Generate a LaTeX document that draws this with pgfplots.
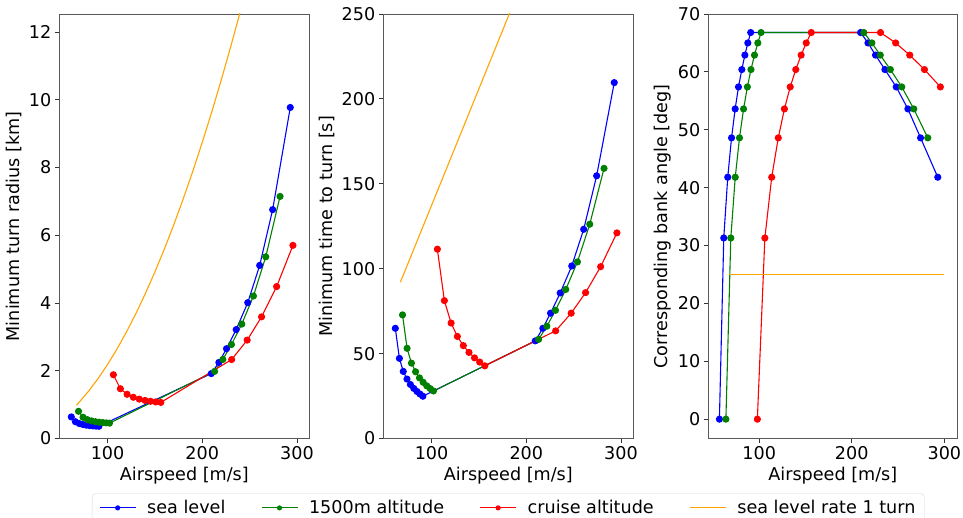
\documentclass[border=0pt]{standalone}
\usepackage{fontspec}
\setmainfont{DejaVu Sans}
\usepackage{pgfplots}
\pgfplotsset{compat=1.18}

\definecolor{cblue}{RGB}{0,0,255}
\definecolor{cgreen}{RGB}{0,128,0}
\definecolor{cred}{RGB}{255,0,0}
\definecolor{corange}{RGB}{255,165,0}

\pgfplotsset{
  panel/.style={
    scale only axis, width=250pt, height=424.5pt,
    anchor=south west,
    tick pos=left, tick align=outside, major tick length=4.5pt,
    axis line style={black!65, line width=0.9pt},
    every tick/.style={black!80, line width=0.9pt},
    font=\fontsize{17.6}{21}\selectfont,
    ticklabel style={font=\fontsize{17.6}{21}\selectfont},
    /pgf/number format/assume math mode=true,
    xtick={100,200,300},
    xlabel={Airspeed [m/s]},
    legend image code/.code={
      \draw[mark repeat=2,mark phase=2,#1,mark size=2pt]
        plot coordinates {(0pt,0pt) (18pt,0pt) (36pt,0pt)};
    },
  },
  sl/.style={color=cblue, line width=1.1pt, mark=*, mark size=3pt, mark options={fill=cblue}},
  mid/.style={color=cgreen, line width=1.1pt, mark=*, mark size=3pt, mark options={fill=cgreen}},
  cr/.style={color=cred, line width=1.1pt, mark=*, mark size=3pt, mark options={fill=cred}},
  rone/.style={color=corange, line width=1.1pt, no markers},
}

\begin{document}
\begin{tikzpicture}
\useasboundingbox (0,0) rectangle (963pt,517pt);

% ---------- turn radius ----------
\begin{axis}[panel, at={(59.3pt,78.5pt)},
  xmin=49, xmax=313, ymin=0, ymax=12.53,
  ytick={0,2,4,6,8,10,12},
  ylabel={Minimum turn radius [km]}]
\addplot[sl] coordinates {
 (61.7,0.637) (66.0,0.496) (70.1,0.441) (74.0,0.412) (77.6,0.393)
 (81.2,0.381) (84.5,0.372) (87.7,0.365) (90.8,0.360)
 (209.5,1.916) (217.5,2.245) (225.6,2.651) (235.8,3.215)
 (248.0,4.010) (260.6,5.109) (274.3,6.755) (292.9,9.771)};
\addplot[mid] coordinates {
 (69.3,0.803) (74.1,0.626) (78.7,0.556) (83.1,0.519) (87.2,0.496)
 (91.1,0.480) (94.9,0.469) (98.5,0.461) (102.0,0.454)
 (213.0,1.981) (221.7,2.333) (230.8,2.774) (241.7,3.377)
 (254.0,4.206) (267.0,5.363) (282.1,7.145)};
\addplot[cr] coordinates {
 (106.1,1.882) (113.5,1.468) (120.6,1.305) (127.2,1.217) (133.5,1.162)
 (139.5,1.125) (145.3,1.099) (150.8,1.080) (156.2,1.065)
 (231.0,2.330) (247.4,2.905) (262.6,3.591) (278.5,4.484) (295.7,5.700)};
\addplot[rone] coordinates {
 (67,0.981) (70,1.071) (80,1.399) (90,1.771) (100,2.186) (110,2.645)
 (120,3.148) (130,3.694) (140,4.285) (150,4.919) (160,5.596)
 (170,6.318) (180,7.083) (190,7.892) (200,8.744) (210,9.640)
 (220,10.580) (230,11.564) (240,12.591) (250,13.663)};
\end{axis}

% ---------- time to turn ----------
\begin{axis}[panel, at={(383.3pt,78.5pt)},
  xmin=49, xmax=313, ymin=0, ymax=250,
  ytick={0,50,100,150,200,250},
  ylabel={Minimum time to turn [s]},
  legend columns=4,
  legend style={at={(0.5,-0.129)}, anchor=north,
    draw=black!15, rounded corners=4pt, fill=white,
    inner xsep=7pt, inner ysep=5pt,
    font=\fontsize{17.6}{21}\selectfont,
    /tikz/every odd column/.append style={column sep=9pt},
    /tikz/every even column/.append style={column sep=33.5pt}}]
\addplot[sl] coordinates {
 (61.7,64.9) (66.0,47.2) (70.1,39.5) (74.0,35.0) (77.6,31.8)
 (81.2,29.5) (84.5,27.7) (87.7,26.2) (90.8,24.9)
 (209.5,57.5) (217.5,64.9) (225.6,73.8) (235.8,85.7)
 (248.0,101.6) (260.6,123.2) (274.3,154.7) (292.9,209.6)};
\addlegendentry{sea level}
\addplot[mid] coordinates {
 (69.3,72.8) (74.1,53.1) (78.7,44.4) (83.1,39.3) (87.2,35.7)
 (91.1,33.1) (94.9,31.0) (98.5,29.4) (102.0,28.0)
 (213.0,58.4) (221.7,66.1) (230.8,75.5) (241.7,87.8)
 (254.0,104.0) (267.0,126.2) (282.1,159.1)};
\addlegendentry{1500m altitude}
\addplot[cr] coordinates {
 (106.1,111.5) (113.5,81.2) (120.6,68.0) (127.2,60.1) (133.5,54.7)
 (139.5,50.7) (145.3,47.5) (150.8,45.0) (156.2,42.8)
 (231.0,63.4) (247.4,73.8) (262.6,85.9) (278.5,101.2) (295.7,121.1)};
\addlegendentry{cruise altitude}
\addplot[rone] coordinates {(67,92.0) (150,206.0) (300,412.1)};
\addlegendentry{sea level rate 1 turn}
\end{axis}

% ---------- bank angle ----------
\begin{axis}[panel, at={(708.3pt,78.5pt)}, width=249pt,
  xmin=45, xmax=314, ymin=-3.34, ymax=70,
  ytick={0,10,20,30,40,50,60,70},
  ylabel={Corresponding bank angle [deg]}]
\addplot[sl] coordinates {
 (57.0,0) (61.7,31.3) (66.0,41.8) (70.1,48.6) (74.0,53.6) (77.6,57.4)
 (81.2,60.4) (84.5,62.9) (87.7,65.0) (90.8,66.8)
 (209.5,66.8) (217.5,65.0) (225.6,62.9) (235.8,60.4)
 (248.0,57.4) (260.6,53.6) (274.3,48.6) (292.9,41.8)};
\addplot[mid] coordinates {
 (64.0,0) (69.3,31.3) (74.1,41.8) (78.7,48.6) (83.1,53.6) (87.2,57.4)
 (91.1,60.4) (94.9,62.9) (98.5,65.0) (102.0,66.8)
 (213.0,66.8) (221.7,65.0) (230.8,62.9) (241.7,60.4)
 (254.0,57.4) (267.0,53.6) (282.1,48.6)};
\addplot[cr] coordinates {
 (98.0,0) (106.1,31.3) (113.5,41.8) (120.6,48.6) (127.2,53.6) (133.5,57.4)
 (139.5,60.4) (145.3,62.9) (150.8,65.0) (156.2,66.8)
 (231.0,66.8) (247.4,65.0) (262.6,62.9) (278.5,60.4) (295.7,57.4)};
\addplot[rone] coordinates {(67,25) (300,25)};
\end{axis}
\end{tikzpicture}
\end{document}
